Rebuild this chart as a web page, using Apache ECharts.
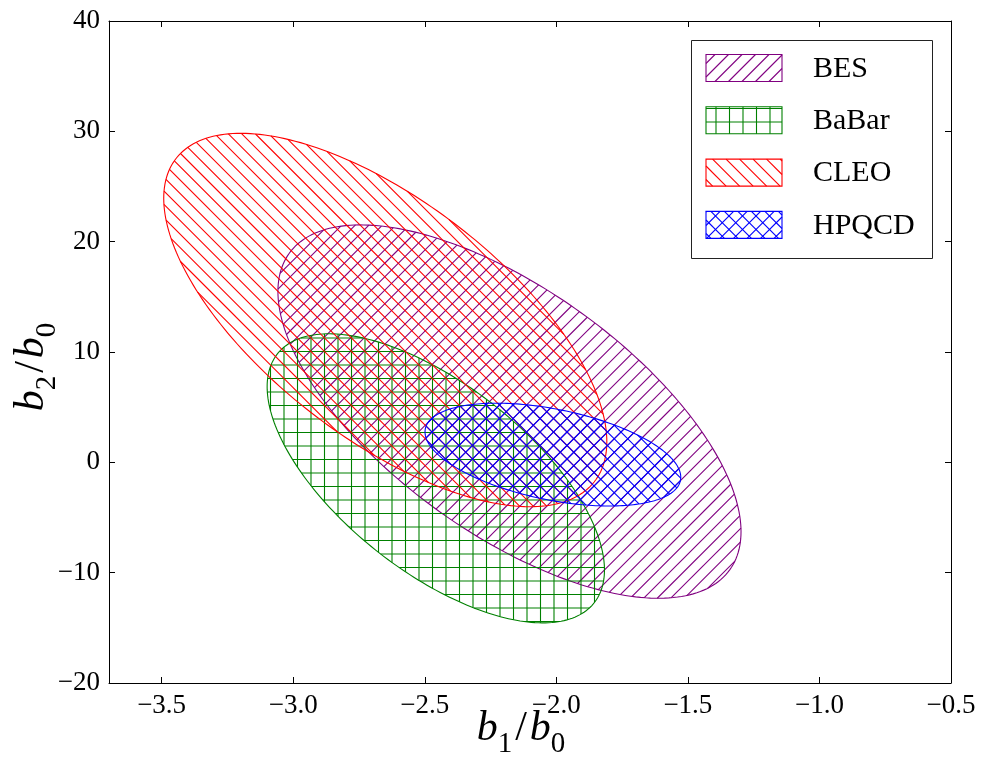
<!DOCTYPE html>
<html>
<head>
<meta charset="utf-8">
<script src="https://cdn.jsdelivr.net/npm/echarts@6/dist/echarts.min.js"></script>
<style>
  html, body { margin: 0; padding: 0; background: #fff; }
  #chart { width: 986px; height: 757px; }
</style>
</head>
<body>
<div id="chart"></div>
<script>
// One-sigma error ellipses in the (b1/b0, b2/b0) plane:
// centre, half-widths along each axis, and correlation coefficient.
const names       = ['BES', 'BaBar', 'CLEO', 'HPQCD'];
const centerB1    = [-2.178, -2.458, -2.650, -2.013];
const centerB2    = [4.6, -1.45, 12.9, 0.7];
const sigmaB1     = [0.880, 0.641, 0.842, 0.486];
const sigmaB2     = [16.92, 13.10, 16.92, 4.66];
const correlation = [-0.643, -0.634, -0.652, -0.44];

const xTicks = [-3.5, -3.0, -2.5, -2.0, -1.5, -1.0, -0.5];
const yTicks = [-20, -10, 0, 10, 20, 30, 40];

const colors  = ['#800080', '#008000', '#ff0000', '#0000ff'];
const hatches = ['/', '+', '\\', 'x'];
const HATCH_STEP = 13.5;
const FONT = '"Liberation Serif", "DejaVu Serif", "Times New Roman", serif';

// Hatch segments [x1, y1, x2, y2] clipped to a convex pixel polygon.
function hatchSegments(poly, kind, step) {
  const normals = [];
  if (kind === '/' || kind === 'x') normals.push([1, 1]);
  if (kind === '\\' || kind === 'x') normals.push([1, -1]);
  if (kind === '+') { normals.push([1, 0]); normals.push([0, 1]); }
  const segs = [];
  normals.forEach(n => {
    const f = poly.map(p => n[0] * p[0] + n[1] * p[1]);
    const lo = Math.min.apply(null, f), hi = Math.max.apply(null, f);
    const offset = (n[0] !== 0 && n[1] !== 0) ? 0 : 0.5;
    for (let k = Math.ceil((lo - offset) / step); k * step + offset <= hi; k++) {
      const c = k * step + offset;
      const pts = [];
      for (let i = 0; i < poly.length; i++) {
        const j = (i + 1) % poly.length;
        const a = f[i] - c, b = f[j] - c;
        if ((a <= 0 && b > 0) || (a > 0 && b <= 0)) {
          const t = a / (a - b);
          pts.push([poly[i][0] + t * (poly[j][0] - poly[i][0]),
                    poly[i][1] + t * (poly[j][1] - poly[i][1])]);
        }
      }
      if (pts.length >= 2) {
        const along = p => -n[1] * p[0] + n[0] * p[1];
        pts.sort((p, q) => along(p) - along(q));
        const p0 = pts[0], p1 = pts[pts.length - 1];
        segs.push([p0[0], p0[1], p1[0], p1[1]]);
      }
    }
  });
  return segs;
}

function hatchLines(segs, color, z) {
  return segs.map(s => {
    const el = {
      type: 'line',
      shape: { x1: s[0], y1: s[1], x2: s[2], y2: s[3] },
      style: { stroke: color, lineWidth: 1.1 }
    };
    if (z != null) el.z = z;
    return el;
  });
}

function ellipseSeries(i) {
  return {
    type: 'custom',
    name: names[i],
    coordinateSystem: 'cartesian2d',
    xAxisIndex: 0,
    yAxisIndex: 0,
    data: [[centerB1[i], centerB2[i], sigmaB1[i], sigmaB2[i], correlation[i]]],
    encode: { x: 0, y: 1 },
    z: 2 + i,
    renderItem: function (params, api) {
      const cx = api.value(0), cy = api.value(1);
      const sx = api.value(2), sy = api.value(3), r = api.value(4);
      const poly = [];
      const N = 240;
      for (let k = 0; k < N; k++) {
        const t = 2 * Math.PI * k / N;
        const x = cx + sx * Math.cos(t);
        const y = cy + sy * (r * Math.cos(t) + Math.sqrt(1 - r * r) * Math.sin(t));
        poly.push(api.coord([x, y]));
      }
      const children = hatchLines(hatchSegments(poly, hatches[i], HATCH_STEP), colors[i]);
      children.push({ type: 'polygon', shape: { points: poly },
                      style: { fill: 'none', stroke: colors[i], lineWidth: 1.1 } });
      return { type: 'group', children: children };
    }
  };
}

// Legend: framed box with hatched swatches
const legendBox = { x: 691, y: 40, w: 241, h: 218 };
const swatch = { x: 706, w: 76, h: 27, top: 54.5, gap: 52.3, textX: 813 };
const legendGraphics = [{
  type: 'rect', z: 50,
  shape: { x: legendBox.x + 0.5, y: legendBox.y + 0.5, width: legendBox.w, height: legendBox.h },
  style: { fill: '#fff', stroke: '#222', lineWidth: 1 }
}];
names.forEach((nm, i) => {
  const y = swatch.top + i * swatch.gap;
  const rectPoly = [[swatch.x, y], [swatch.x + swatch.w, y],
                    [swatch.x + swatch.w, y + swatch.h], [swatch.x, y + swatch.h]];
  hatchLines(hatchSegments(rectPoly, hatches[i], HATCH_STEP), colors[i], 51)
    .forEach(el => legendGraphics.push(el));
  legendGraphics.push({
    type: 'rect', z: 52,
    shape: { x: swatch.x, y: y, width: swatch.w, height: swatch.h },
    style: { fill: 'none', stroke: colors[i], lineWidth: 1.1 }
  });
  legendGraphics.push({
    type: 'text', z: 52,
    x: swatch.textX, y: y + swatch.h / 2 + 1,
    style: { text: nm, fontSize: 30, fontFamily: FONT, fill: '#000',
             align: 'left', verticalAlign: 'middle' }
  });
});

const fmtX = v => Number(v).toFixed(1).replace('-', '\u2212');
const fmtY = v => String(v).replace('-', '\u2212');

// Italic b with subscripts; the trailing subscript carries extra end padding
// so the visible title sits slightly towards its start.
function nameRich(endPad) {
  return {
    i: { fontFamily: FONT, fontStyle: 'italic', fontSize: 42, lineHeight: 46, verticalAlign: 'top', color: '#000' },
    s: { fontFamily: FONT, fontSize: 29, lineHeight: 29, verticalAlign: 'top', padding: [22, 0, 0, 0], color: '#000' },
    e: { fontFamily: FONT, fontSize: 29, lineHeight: 29, verticalAlign: 'top', padding: [22, endPad, 0, 0], color: '#000' },
    n: { fontFamily: FONT, fontSize: 42, lineHeight: 46, verticalAlign: 'top', padding: [0, 3, 0, 3], color: '#000' }
  };
}

const axisLineStyle = { color: '#000', width: 1 };
const tickStyle = { color: '#000', width: 1 };

const option = {
  animation: false,
  backgroundColor: '#fff',
  grid: { left: 109, right: 35, top: 21, bottom: 74, containLabel: false, outerBoundsMode: 'none' },
  xAxis: [
    {
      type: 'value', position: 'bottom', min: -3.7, max: -0.5,
      axisLine: { show: true, onZero: false, lineStyle: axisLineStyle },
      axisTick: { show: true, inside: true, length: 6, customValues: xTicks, lineStyle: tickStyle },
      axisLabel: { show: true, customValues: xTicks, formatter: fmtX, fontSize: 27,
                   fontFamily: FONT, color: '#000', margin: 9 },
      splitLine: { show: false },
      name: '{i|b}{s|1}{n|/}{i|b}{e|0}',
      nameLocation: 'middle', nameGap: 25, nameMoveOverlap: false,
      nameTextStyle: { rich: nameRich(18) }
    },
    {
      type: 'value', position: 'top', min: -3.7, max: -0.5,
      axisLine: { show: true, onZero: false, lineStyle: axisLineStyle },
      axisTick: { show: true, inside: true, length: 6, customValues: xTicks, lineStyle: tickStyle },
      axisLabel: { show: false },
      splitLine: { show: false }
    }
  ],
  yAxis: [
    {
      type: 'value', position: 'left', min: -20, max: 40, interval: 10,
      axisLine: { show: true, onZero: false, lineStyle: axisLineStyle },
      axisTick: { show: true, inside: true, length: 6, customValues: yTicks, lineStyle: tickStyle },
      axisLabel: { show: true, customValues: yTicks, formatter: fmtY, fontSize: 27,
                   fontFamily: FONT, color: '#000', margin: 9 },
      splitLine: { show: false },
      name: '{i|b}{s|2}{n|/}{i|b}{e|0}',
      nameLocation: 'middle', nameGap: 52, nameMoveOverlap: false,
      nameTextStyle: { rich: nameRich(30) }
    },
    {
      type: 'value', position: 'right', min: -20, max: 40, interval: 10,
      axisLine: { show: true, onZero: false, lineStyle: axisLineStyle },
      axisTick: { show: true, inside: true, length: 6, customValues: yTicks, lineStyle: tickStyle },
      axisLabel: { show: false },
      splitLine: { show: false }
    }
  ],
  graphic: legendGraphics,
  series: names.map((_, i) => ellipseSeries(i))
};

const chart = echarts.init(document.getElementById('chart'), null, { renderer: 'canvas' });
chart.setOption(option);
</script>
</body>
</html>
